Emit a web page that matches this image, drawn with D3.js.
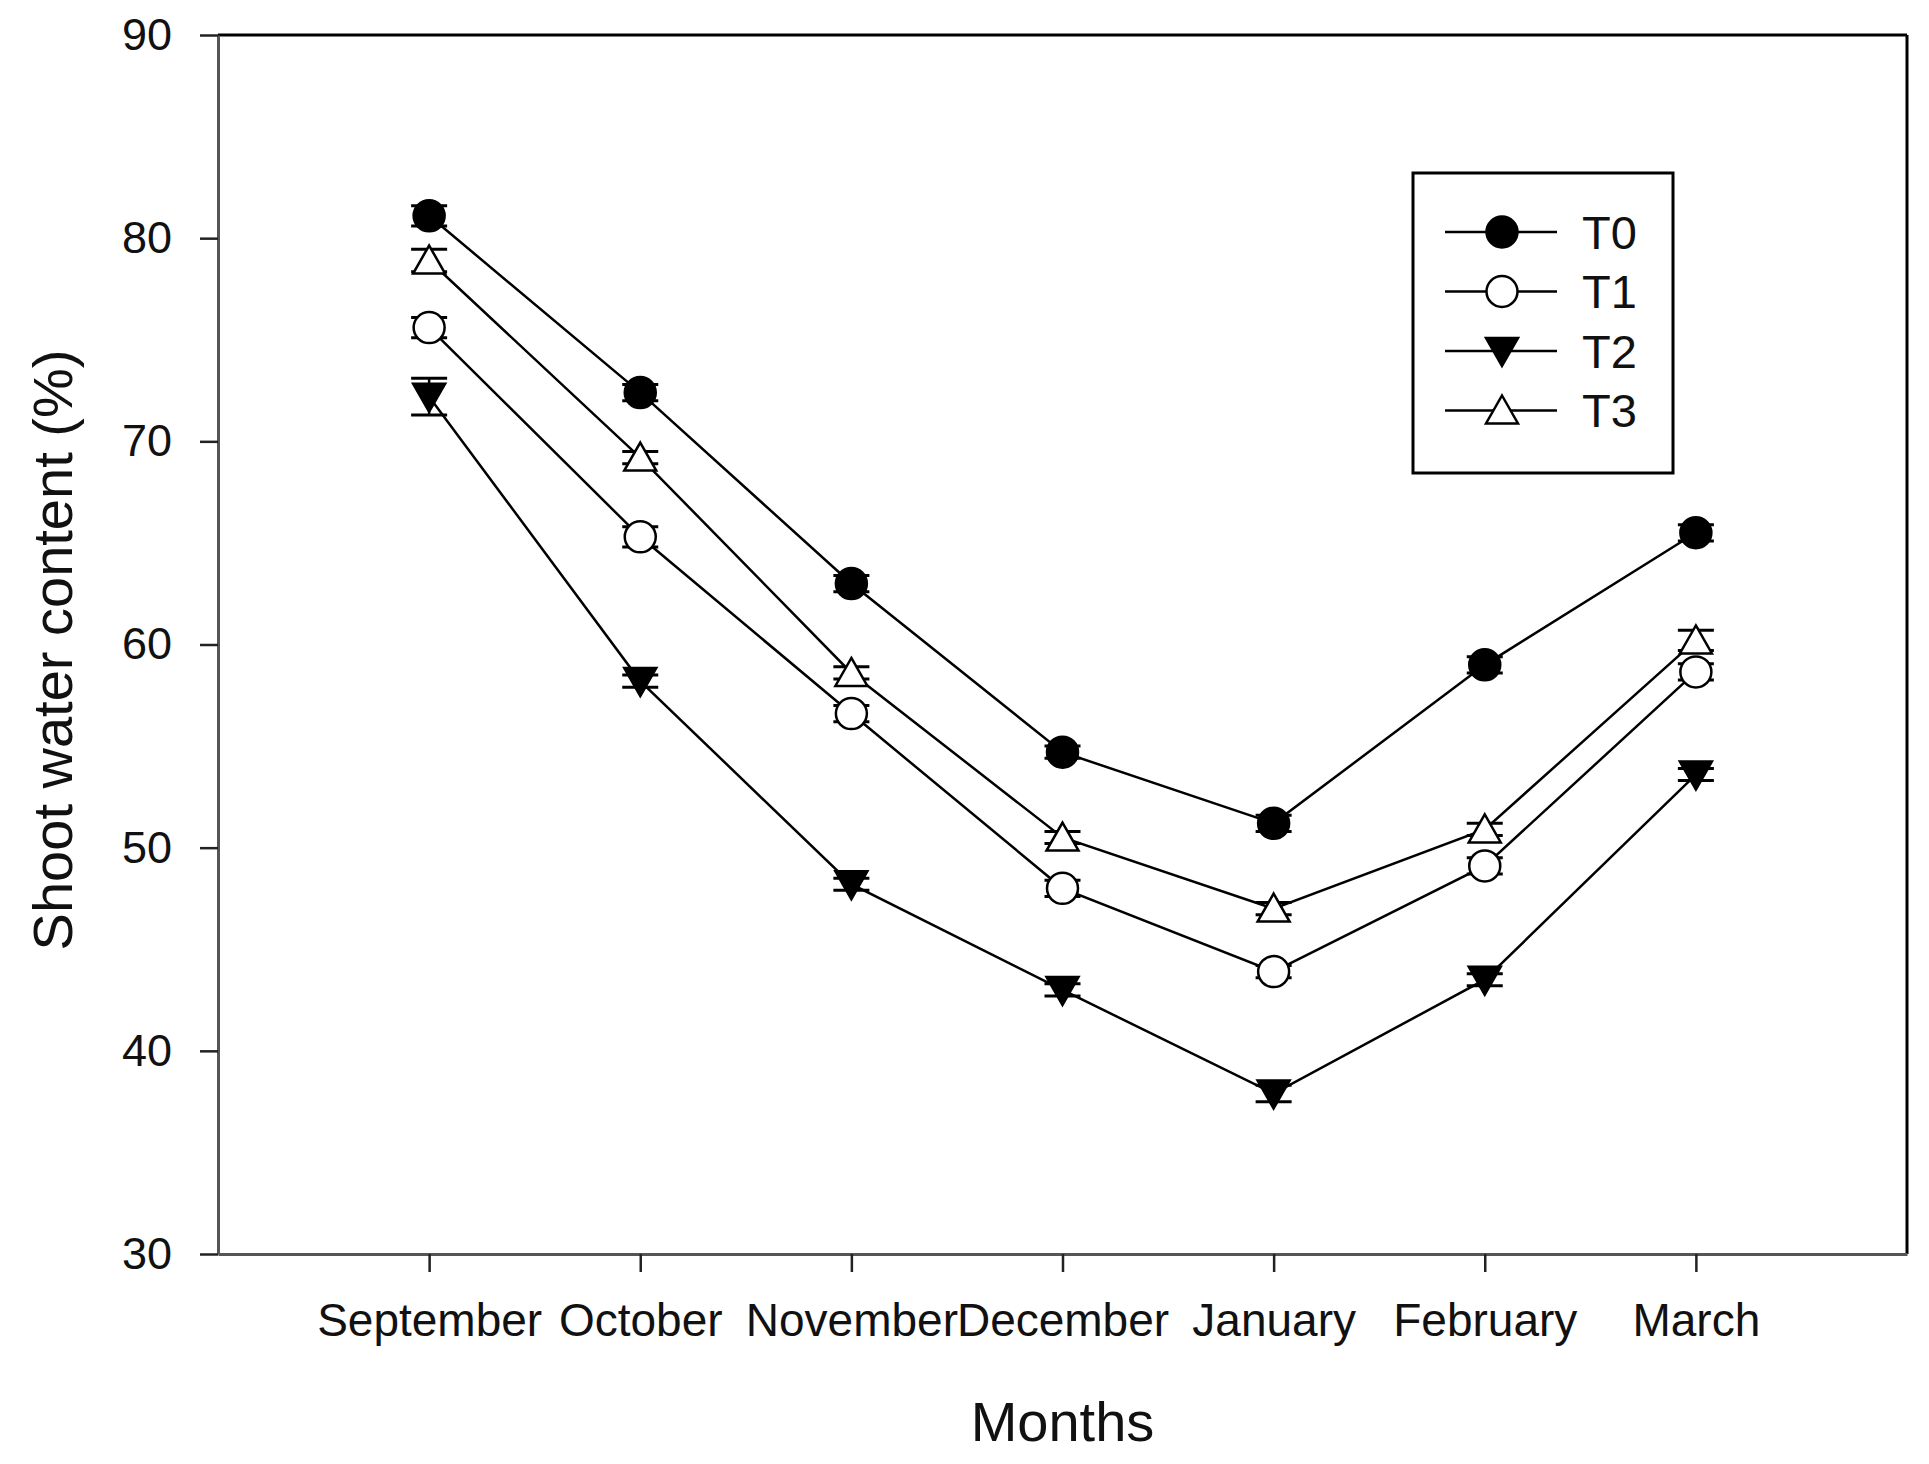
<!DOCTYPE html>
<html>
<head>
<meta charset="utf-8">
<script src="https://cdn.jsdelivr.net/npm/d3@7"></script>
<style>
  html, body { margin: 0; padding: 0; background: #fff; }
  svg { display: block; }
  text { font-family: "Liberation Sans", Arial, sans-serif; fill: #111; }
</style>
</head>
<body>
<svg id="chart" width="1929" height="1464"></svg>
<script>
const months = ["September", "October", "November", "December", "January", "February", "March"];
const seriesNames = ["T0", "T1", "T2", "T3"];
const t0 = [81.1, 72.4, 63.0, 54.7, 51.2, 59.0, 65.5];
const t1 = [75.6, 65.3, 56.6, 48.0, 43.9, 49.1, 58.65];
const t2 = [72.2, 58.2, 48.2, 43.0, 37.9, 43.5, 53.6];
const t3 = [78.9, 69.2, 58.6, 50.5, 47.0, 50.9, 60.2];
const e0 = [0.5, 0.4, 0.4, 0.3, 0.4, 0.4, 0.4];
const e1 = [0.5, 0.5, 0.4, 0.4, 0.3, 0.4, 0.4];
const e2 = [0.9, 0.3, 0.3, 0.3, 0.4, 0.3, 0.3];
const e3 = [0.55, 0.3, 0.3, 0.3, 0.3, 0.3, 0.5];
const yTicks = [30, 40, 50, 60, 70, 80, 90];
const yLabel = "Shoot water content (%)";
const xLabel = "Months";

const series = [
  { name: seriesNames[0], values: t0, err: e0, shape: "circle", fill: "#000" },
  { name: seriesNames[1], values: t1, err: e1, shape: "circle", fill: "#fff" },
  { name: seriesNames[2], values: t2, err: e2, shape: "down", fill: "#000" },
  { name: seriesNames[3], values: t3, err: e3, shape: "up", fill: "#fff" }
];

const svg = d3.select("#chart");
const L = 218, R = 1907, T = 35, B = 1254;

const x = d3.scalePoint().domain(months).range([L, R]).padding(1);
const y = d3.scaleLinear().domain([30, 90]).range([B, T]);

// frame top/right
svg.append("line").attr("x1", L).attr("x2", R).attr("y1", T).attr("y2", T)
  .attr("stroke", "#000").attr("stroke-width", 3);
svg.append("line").attr("x1", R).attr("x2", R).attr("y1", T).attr("y2", B)
  .attr("stroke", "#000").attr("stroke-width", 3);

// y axis
const yAxis = svg.append("g").attr("transform", `translate(${L},0)`)
  .call(d3.axisLeft(y).tickValues(yTicks).tickSize(18).tickSizeOuter(0).tickPadding(28).tickFormat(d3.format("d")));
yAxis.select(".domain").attr("stroke", "#555").attr("stroke-width", 3);
yAxis.selectAll(".tick line").attr("stroke", "#222").attr("stroke-width", 2.5);
yAxis.selectAll(".tick text").attr("font-size", 45).attr("fill", "#111")
  .style("font-family", "'Liberation Sans', Arial, sans-serif");

// x axis
const xAxis = svg.append("g").attr("transform", `translate(0,${B})`)
  .call(d3.axisBottom(x).tickSize(18).tickSizeOuter(0).tickPadding(31));
xAxis.select(".domain").attr("stroke", "#555").attr("stroke-width", 3);
xAxis.selectAll(".tick line").attr("stroke", "#222").attr("stroke-width", 2.5);
xAxis.selectAll(".tick text").attr("font-size", 46).attr("fill", "#111")
  .style("font-family", "'Liberation Sans', Arial, sans-serif");

// axis titles
svg.append("text").attr("transform", `translate(72,650) rotate(-90)`)
  .attr("text-anchor", "middle").attr("font-size", 56).text(yLabel);
svg.append("text").attr("x", (L + R) / 2).attr("y", 1441)
  .attr("text-anchor", "middle").attr("font-size", 56).text(xLabel);

function symbolPath(shape) {
  if (shape === "up") return "M0,-15 L16,13 L-16,13 Z";
  if (shape === "down") return "M0,15 L16,-13 L-16,-13 Z";
  return null;
}
function drawMarker(g, shape, fill, cx, cy) {
  if (shape === "circle") {
    g.append("circle").attr("cx", cx).attr("cy", cy).attr("r", 15.5)
      .attr("fill", fill).attr("stroke", "#000").attr("stroke-width", 2.5);
  } else {
    g.append("path").attr("d", symbolPath(shape))
      .attr("transform", `translate(${cx},${cy})`)
      .attr("fill", fill).attr("stroke", "#000").attr("stroke-width", 2.5)
      .attr("stroke-linejoin", "miter");
  }
}

const line = d3.line().x((d, i) => x(months[i])).y(d => y(d));
const plot = svg.append("g");

// error bars
series.forEach(s => {
  const g = plot.append("g");
  s.values.forEach((v, i) => {
    const cx = x(months[i]);
    const hi = y(v + s.err[i]), lo = y(v - s.err[i]);
    g.append("line").attr("x1", cx).attr("x2", cx).attr("y1", hi).attr("y2", lo)
      .attr("stroke", "#000").attr("stroke-width", 2.5);
    [hi, lo].forEach(yy => g.append("line").attr("x1", cx - 18).attr("x2", cx + 18)
      .attr("y1", yy).attr("y2", yy).attr("stroke", "#000").attr("stroke-width", 3));
  });
});
// lines
series.forEach(s => {
  plot.append("path").datum(s.values).attr("d", line)
    .attr("fill", "none").attr("stroke", "#000").attr("stroke-width", 2.5);
});
// markers
series.forEach(s => {
  const g = plot.append("g");
  s.values.forEach((v, i) => drawMarker(g, s.shape, s.fill, x(months[i]), y(v)));
});

// legend
const lg = svg.append("g");
lg.append("rect").attr("x", 1413).attr("y", 173).attr("width", 260).attr("height", 300)
  .attr("fill", "#fff").attr("stroke", "#000").attr("stroke-width", 3);
series.forEach((s, i) => {
  const cy = 232 + i * 59.5;
  lg.append("line").attr("x1", 1445).attr("x2", 1557).attr("y1", cy).attr("y2", cy)
    .attr("stroke", "#000").attr("stroke-width", 2.5);
  drawMarker(lg, s.shape, s.fill, 1502, cy);
  lg.append("text").attr("x", 1582).attr("y", cy).attr("dy", "0.36em")
    .attr("font-size", 47).text(s.name);
});
</script>
</body>
</html>
